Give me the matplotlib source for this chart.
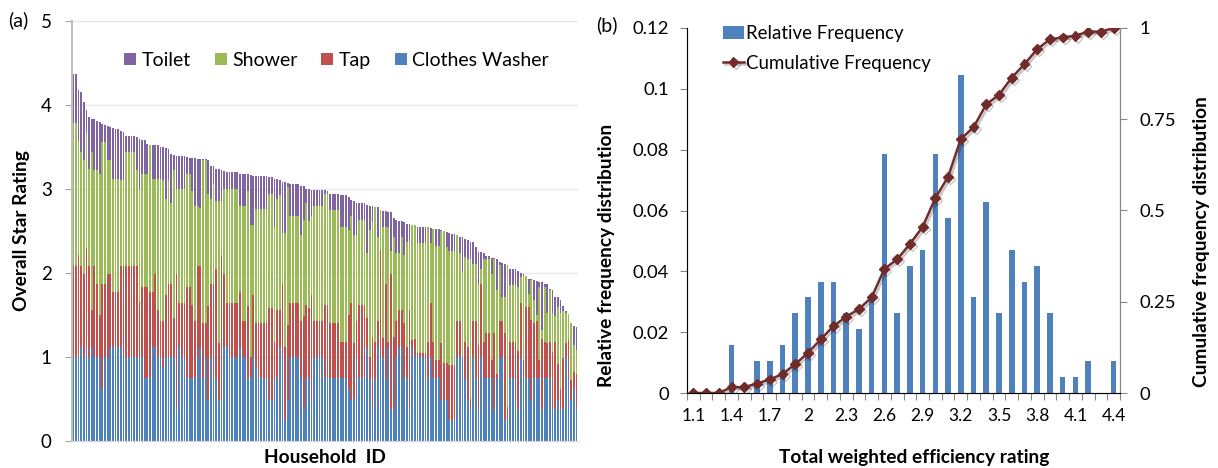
import numpy as np
import matplotlib
matplotlib.use("Agg")
import matplotlib.pyplot as plt
from matplotlib import patheffects as pe

plt.rcParams['font.family'] = ['Lato', 'DejaVu Sans']

# ---- panel (a): cumulative stack tops per household, sorted by overall rating ----
overall = [
    4.37, 4.37, 4.17, 4.15, 4.03, 3.94, 3.85, 3.83, 3.83, 3.81, 3.79, 3.77, 3.76, 3.75, 3.74, 3.72,
    3.71, 3.71, 3.69, 3.68, 3.63, 3.63, 3.63, 3.63, 3.61, 3.59, 3.58, 3.58, 3.53, 3.52, 3.52, 3.52,
    3.52, 3.50, 3.50, 3.48, 3.47, 3.41, 3.40, 3.39, 3.39, 3.39, 3.39, 3.38, 3.37, 3.37, 3.36, 3.35,
    3.35, 3.35, 3.35, 3.34, 3.27, 3.27, 3.24, 3.23, 3.22, 3.21, 3.20, 3.20, 3.20, 3.20, 3.20, 3.17,
    3.17, 3.17, 3.17, 3.16, 3.15, 3.15, 3.15, 3.15, 3.15, 3.15, 3.14, 3.14, 3.12, 3.12, 3.10, 3.08,
    3.08, 3.07, 3.06, 3.06, 3.06, 3.06, 3.03, 3.03, 3.00, 3.00, 2.98, 2.98, 2.98, 2.98, 2.98, 2.98,
    2.97,
    2.94, 2.94, 2.94, 2.94, 2.92, 2.92, 2.92, 2.90, 2.87, 2.85, 2.83, 2.83, 2.83, 2.83, 2.81, 2.79,
    2.79, 2.78, 2.78, 2.75, 2.74, 2.74, 2.72, 2.72, 2.65, 2.63, 2.62, 2.62, 2.60, 2.58, 2.58, 2.57,
    2.57, 2.55, 2.55, 2.55, 2.55, 2.54, 2.53, 2.52, 2.52, 2.52, 2.51, 2.50, 2.48, 2.47, 2.46, 2.46,
    2.45, 2.43, 2.43, 2.40, 2.39, 2.36, 2.36, 2.30, 2.25, 2.25, 2.24, 2.20, 2.20, 2.18, 2.17, 2.16,
    2.13, 2.11, 2.10, 2.09, 2.05, 2.05, 2.05, 2.02, 2.00, 1.98, 1.96, 1.93, 1.92, 1.91, 1.90, 1.89,
    1.89, 1.87, 1.86, 1.81, 1.79, 1.71, 1.71, 1.67, 1.60, 1.55, 1.51, 1.40, 1.36, 1.35,
]
shower_top = [
    3.78, 3.78, 3.57, 3.44, 3.34, 3.66, 3.24, 3.44, 3.22, 3.22, 3.18, 3.56, 3.56, 3.34, 3.34, 3.12,
    3.12, 3.12, 3.10, 3.10, 3.44, 3.44, 3.44, 3.44, 3.22, 3.00, 3.18, 3.18, 3.18, 3.52, 3.12, 3.12,
    3.12, 3.12, 3.10, 2.88, 3.10, 2.83, 3.22, 3.00, 3.00, 3.00, 3.00, 3.18, 3.18, 2.97, 2.79, 2.79,
    2.77, 3.34, 3.34, 2.94, 2.88, 3.06, 2.85, 2.85, 2.85, 3.00, 3.00, 3.00, 3.00, 3.00, 3.00, 2.79,
    2.79, 2.79, 2.97, 2.57, 2.57, 2.76, 2.76, 2.76, 2.76, 2.76, 2.94, 2.94, 2.55, 2.88, 2.92, 2.47,
    2.47, 3.02, 2.67, 2.67, 2.67, 2.67, 2.45, 2.63, 2.83, 2.61, 2.67, 2.79, 2.79, 2.79, 2.79, 2.94,
    2.94,
    2.75, 2.75, 2.75, 2.75, 2.54, 2.54, 2.54, 2.51, 2.67, 2.45, 2.45, 2.63, 2.63, 2.63, 2.23, 2.51,
    2.60, 2.78, 2.43, 2.75, 2.54, 2.54, 2.54, 2.26, 2.43, 2.23, 2.23, 2.42, 2.21, 2.37, 2.37, 2.57,
    2.57, 2.35, 2.35, 2.35, 2.35, 2.54, 2.35, 2.52, 2.32, 2.32, 2.50, 2.50, 2.31, 2.26, 2.26, 2.26,
    2.45, 2.23, 2.01, 2.19, 2.16, 2.16, 2.10, 2.10, 1.87, 2.04, 2.16, 2.16, 2.16, 1.99, 2.16, 1.79,
    2.09, 1.71, 1.71, 2.09, 1.85, 1.85, 1.85, 1.83, 1.95, 1.96, 1.96, 1.75, 1.91, 1.68, 1.50, 1.83,
    1.32, 1.83, 1.52, 1.79, 1.52, 1.48, 1.59, 1.52, 1.55, 1.52, 1.51, 1.40, 1.14, 1.08,
]
tap_top = [
    2.08, 2.08, 2.21, 2.08, 1.99, 2.30, 2.08, 1.56, 2.08, 1.87, 1.50, 1.87, 1.87, 1.99, 1.99, 1.77,
    1.77, 1.77, 2.08, 2.08, 2.08, 2.08, 2.08, 2.08, 2.08, 1.65, 1.83, 1.83, 1.83, 1.77, 1.77, 1.99,
    1.56, 1.43, 1.43, 1.73, 1.87, 1.87, 1.46, 1.99, 1.64, 1.64, 1.64, 1.83, 1.83, 1.62, 1.43, 2.08,
    2.08, 1.40, 1.40, 1.60, 1.87, 1.87, 2.05, 1.16, 2.21, 1.99, 1.64, 1.64, 1.64, 1.64, 1.64, 1.77,
    1.42, 1.42, 1.60, 1.00, 1.73, 1.40, 1.40, 1.40, 1.40, 1.40, 1.58, 1.58, 1.18, 1.56, 1.56, 1.87,
    1.12, 1.38, 1.64, 1.64, 1.64, 1.64, 1.42, 1.48, 1.62, 1.58, 1.73, 1.42, 1.42, 1.42, 1.42, 1.62,
    1.62,
    1.40, 1.40, 1.40, 1.40, 1.18, 1.18, 1.18, 1.50, 1.64, 1.16, 1.43, 1.62, 1.62, 1.62, 1.46, 1.00,
    1.24, 1.18, 1.42, 2.27, 1.22, 1.87, 1.18, 1.99, 1.24, 1.42, 1.56, 1.56, 1.40, 1.12, 1.56, 1.20,
    1.21, 1.05, 1.05, 1.05, 1.05, 1.18, 1.64, 1.18, 0.96, 0.96, 1.16, 0.92, 0.92, 0.90, 0.90, 0.90,
    1.42, 1.42, 1.00, 1.18, 1.12, 0.50, 1.42, 1.42, 1.14, 1.87, 1.18, 1.28, 1.28, 0.96, 1.28, 0.80,
    1.42, 1.42, 1.28, 0.40, 1.18, 1.18, 1.18, 1.07, 1.64, 0.96, 1.59, 1.59, 1.44, 1.40, 1.42, 0.96,
    1.21, 1.18, 1.16, 1.18, 1.06, 1.18, 0.91, 0.62, 0.98, 1.16, 1.20, 0.72, 0.82, 0.80,
]
washer = [
    1.00, 1.00, 1.00, 1.12, 1.00, 1.12, 1.00, 1.12, 1.00, 1.00, 1.00, 0.62, 1.00, 1.00, 1.12, 1.12,
    1.12, 1.12, 1.12, 1.00, 1.00, 1.00, 1.00, 1.00, 1.00, 1.00, 1.00, 0.75, 0.75, 0.75, 1.12, 1.12,
    1.00, 1.00, 0.88, 1.00, 1.00, 1.00, 1.00, 0.38, 1.12, 1.00, 1.00, 0.75, 0.75, 0.75, 0.75, 1.00,
    1.12, 0.75, 1.00, 0.50, 1.00, 0.75, 0.75, 0.49, 0.49, 1.12, 1.12, 1.00, 1.00, 1.00, 1.00, 1.12,
    1.00, 1.00, 0.75, 0.75, 1.00, 0.88, 0.75, 0.75, 0.75, 0.75, 0.49, 0.49, 0.75, 0.75, 1.12, 1.00,
    0.25, 0.49, 1.00, 1.00, 1.00, 1.00, 0.75, 0.38, 0.75, 0.75, 0.49, 1.00, 1.00, 1.00, 1.00, 0.75,
    0.75,
    0.75, 0.75, 0.75, 0.75, 0.75, 0.75, 0.75, 0.62, 0.50, 0.50, 1.00, 0.75, 0.75, 0.75, 1.12, 0.75,
    0.38, 0.75, 1.12, 1.00, 1.00, 0.75, 1.12, 0.38, 0.38, 1.00, 1.12, 1.12, 0.75, 0.75, 0.38, 1.12,
    1.00, 1.00, 1.00, 1.00, 1.00, 0.75, 1.00, 0.75, 0.75, 0.75, 0.49, 0.49, 0.49, 0.25, 0.25, 0.25,
    1.00, 1.00, 1.00, 0.75, 0.49, 0.38, 1.00, 0.75, 0.38, 1.00, 0.75, 0.75, 0.75, 0.75, 0.38, 0.75,
    1.00, 1.00, 0.25, 0.25, 0.75, 0.75, 0.49, 0.38, 1.00, 0.75, 0.75, 0.75, 0.49, 0.75, 0.75, 0.75,
    0.38, 0.75, 0.75, 0.75, 0.38, 0.38, 0.49, 0.38, 0.38, 1.00, 0.72, 0.49, 0.62, 0.38,
]

# ---- panel (b): histogram of total weighted efficiency rating ----
ratings = [1.1, 1.2, 1.3, 1.4, 1.5, 1.6, 1.7, 1.8, 1.9, 2.0, 2.1, 2.2, 2.3, 2.4, 2.5, 2.6, 2.7,
           2.8, 2.9, 3.0, 3.1, 3.2, 3.3, 3.4, 3.5, 3.6, 3.7, 3.8, 3.9, 4.0, 4.1, 4.2, 4.3, 4.4]
rel_freq = [0, 0, 0, 0.0157, 0, 0.0105, 0.0105, 0.0157, 0.0262, 0.0314, 0.0366, 0.0366,
            0.0262, 0.0209, 0.0314, 0.0785, 0.0262, 0.0419, 0.0471, 0.0785, 0.0576, 0.1047,
            0.0314, 0.0628, 0.0262, 0.0471, 0.0366, 0.0419, 0.0262, 0.0052, 0.0052, 0.0105,
            0, 0.0105]
cum_freq = [0, 0, 0, 0.016, 0.016, 0.026, 0.037, 0.052, 0.079, 0.110, 0.147, 0.183, 0.209,
            0.230, 0.262, 0.340, 0.366, 0.408, 0.455, 0.534, 0.592, 0.696, 0.728, 0.791, 0.817,
            0.864, 0.901, 0.942, 0.969, 0.974, 0.979, 0.990, 0.990, 1.0]

assert len(overall) == len(shower_top) == len(tap_top) == len(washer)

W, H = 1218, 468
fig = plt.figure(figsize=(W / 100, H / 100), dpi=100)
label_size = 13.8

# ---------------- (a) ----------------
ax1 = fig.add_axes([72 / W, 27.3 / H, (578 - 72) / W, 420 / H])
x = np.arange(len(overall))
wash = np.array(washer)
tap = np.array(tap_top) - wash
shower = np.array(shower_top) - np.array(tap_top)
toilet = np.array(overall) - np.array(shower_top)

bw = 0.68
b_w = ax1.bar(x, wash, width=bw, color='#4F81BD', label='Clothes Washer')
b_t = ax1.bar(x, tap, bottom=wash, width=bw, color='#C0504D', label='Tap')
b_s = ax1.bar(x, shower, bottom=np.array(tap_top), width=bw, color='#9BBB59', label='Shower')
b_o = ax1.bar(x, toilet, bottom=np.array(shower_top), width=bw, color='#8064A2', label='Toilet')

ax1.set_xlim(-0.45, len(overall) - 0.4)
ax1.set_ylim(0, 5)
ax1.set_yticks(range(6))
ax1.set_xticks([])
ax1.yaxis.grid(True, color='#e8e8e8', linewidth=1)
ax1.set_axisbelow(True)
ax1.tick_params(axis='y', length=5, color='#a6a6a6', labelsize=13.5, pad=9.5)
for s in ['top', 'right']:
    ax1.spines[s].set_visible(False)
ax1.spines['left'].set_color('#bfbfbf')
ax1.spines['left'].set_linewidth(1.5)
ax1.spines['bottom'].set_color('#d9d9d9')
ax1.set_ylabel('Overall Star Rating', fontweight='bold', fontsize=label_size, labelpad=8)
ax1.set_xlabel('Household  ID', fontweight='bold', fontsize=label_size, labelpad=6)
ax1.legend(handles=[b_o, b_s, b_t, b_w], loc='center', bbox_to_anchor=(0.523, 0.906),
           ncol=4, frameon=False, fontsize=14, handlelength=0.62, handleheight=0.62,
           handletextpad=0.3, columnspacing=1.2)

# ---------------- (b) ----------------
ax2 = fig.add_axes([687 / W, 75 / H, (1120 - 687) / W, 365 / H])
xb = np.arange(len(ratings))
bars = ax2.bar(xb, rel_freq, width=0.44, color='#4F81BD', label='Relative Frequency')
ax2.set_xlim(-0.5, len(ratings) - 0.5)
ax2.set_ylim(0, 0.12)
ax2.set_yticks([0, 0.02, 0.04, 0.06, 0.08, 0.10, 0.12])
ax2.set_yticklabels(['0', '0.02', '0.04', '0.06', '0.08', '0.1', '0.12'])
ax2.set_xticks(np.arange(-0.5, len(ratings), 1))
ax2.set_xticklabels([])
ax2.set_xticks(xb[::3], minor=True)
ax2.set_xticklabels([f'{r:.1f}'.rstrip('0').rstrip('.') for r in ratings[::3]], minor=True)
ax2.tick_params(axis='x', which='major', length=5, color='#868686')
ax2.tick_params(axis='x', which='minor', length=0, labelsize=12.5, pad=11)
ax2.tick_params(axis='y', length=5, color='#868686', labelsize=13.3, pad=8)
ax2.spines['top'].set_visible(False)
for s in ['left', 'bottom', 'right']:
    ax2.spines[s].set_color('#868686')

ax3 = ax2.twinx()
line, = ax3.plot(xb, cum_freq, color='#722B2B', linewidth=1.8, marker='D', markersize=5,
                 label='Cumulative Frequency',
                 path_effects=[pe.SimpleLineShadow(offset=(1.5, -1.5), alpha=0.22), pe.Normal()])
ax3.set_ylim(0, 1)
ax3.set_yticks([0, 0.25, 0.5, 0.75, 1])
ax3.set_yticklabels(['0', '0.25', '0.5', '0.75', '1'])
ax3.tick_params(axis='y', length=5, color='#868686', labelsize=13.3, pad=9)
ax3.spines['top'].set_visible(False)
ax3.spines['right'].set_color('#868686')

ax2.set_ylabel('Relative frequency distribution', fontweight='bold', fontsize=label_size)
ax2.yaxis.set_label_coords(-0.167, 0.378)
ax3.set_ylabel('Cumulative frequency distribution', fontweight='bold', fontsize=label_size)
ax3.yaxis.set_label_coords(1.168, 0.414)
ax2.set_xlabel('Total weighted efficiency rating', fontweight='bold', fontsize=label_size)
ax2.xaxis.set_label_coords(0.524, -0.153)
ax2.legend(handles=[bars, line], loc='upper left', bbox_to_anchor=(0.045, 1.055),
           frameon=False, fontsize=13.4, handlelength=1.1, handleheight=0.7,
           handletextpad=0.1, labelspacing=0.7)

fig.text(8 / W, 1 - 20 / H, '(a)', fontsize=14, va='center')
fig.text(596 / W, 1 - 25 / H, '(b)', fontsize=14, va='center')

fig.savefig('out.png', dpi=100)
